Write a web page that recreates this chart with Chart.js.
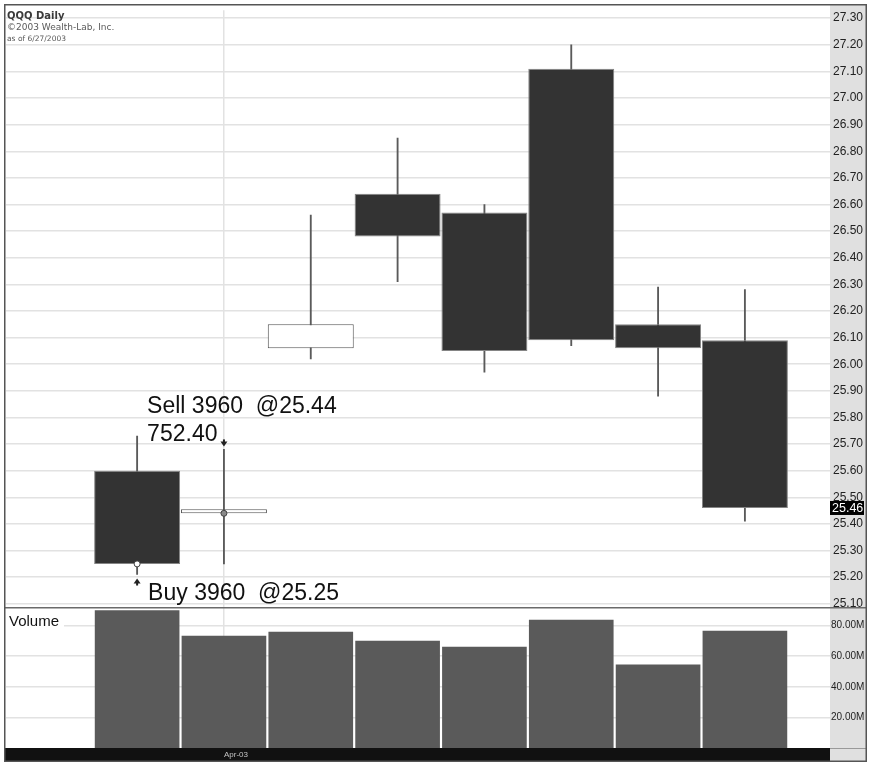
<!DOCTYPE html>
<html>
<head>
<meta charset="utf-8">
<script src="https://cdn.jsdelivr.net/npm/chart.js@4.4.1/dist/chart.umd.min.js"></script>
<style>
html,body{margin:0;padding:0;background:#fff;}
#c{position:absolute;left:0;top:0;width:870px;height:762px;}
</style>
</head>
<body>
<canvas id="c" width="870" height="762"></canvas>
<script>
// ---- data ----
const barIndex = [0, 1, 2, 3, 4, 5, 6, 7];
const opens    = [25.60, 25.44, 26.06, 26.64, 26.57, 27.11, 26.15, 26.09];
const highs    = [25.73, 25.68, 26.56, 26.85, 26.60, 27.20, 26.29, 26.28];
const lows     = [25.21, 25.25, 26.02, 26.31, 25.97, 26.07, 25.88, 25.41];
const closes   = [25.25, 25.44, 26.15, 26.48, 26.05, 26.09, 26.06, 25.46];
const volumes  = [90.0e6, 73.4e6, 76.0e6, 70.1e6, 66.2e6, 83.8e6, 54.5e6, 76.6e6];

const priceTicks = [25.10, 25.20, 25.30, 25.40, 25.50, 25.60, 25.70, 25.80, 25.90, 26.00, 26.10,
                    26.20, 26.30, 26.40, 26.50, 26.60, 26.70, 26.80, 26.90, 27.00, 27.10, 27.20, 27.30];
const volumeTicks = [20e6, 40e6, 60e6, 80e6];
const volumeTickLabels = ['20.00M', '40.00M', '60.00M', '80.00M'];
const dateTickIndex = [1];
const dateTickLabels = ['Apr-03'];

const tradeSide   = ['Buy', 'Sell'];
const tradeBar    = [0, 1];
const tradePrice  = [25.25, 25.44];
const tradeShares = [3960, 3960];

const titleLines = ['QQQ Daily', '\u00A92003 Wealth-Lab, Inc.', 'as of 6/27/2003'];

// ---- derived styles ----
const bodyFill   = barIndex.map(i => closes[i] < opens[i] ? '#333333' : '#ffffff');
const bodyBorder = barIndex.map(i => closes[i] < opens[i] ? '#858585' : '#555555');

const decorPlugin = {
  id: 'decor',
  beforeDraw(chart) {
    const ctx = chart.ctx;
    const ca = chart.chartArea;
    ctx.save();
    ctx.fillStyle = '#ffffff';
    ctx.fillRect(0, 0, chart.width, chart.height);
    ctx.fillStyle = '#e0e0e0';
    ctx.fillRect(ca.right, 5, 866 - ca.right, 756);
    ctx.fillStyle = '#111111';
    ctx.fillRect(5, ca.bottom, ca.right - 5, 761 - ca.bottom);
    ctx.restore();
  },
  afterDatasetsDraw(chart) {
    const ctx = chart.ctx;
    const xs = chart.scales.x, ys = chart.scales.y;
    ctx.save();
    tradeBar.forEach((b, k) => {
      const px = xs.getPixelForValue(b);
      const py = ys.getPixelForValue(tradePrice[k]);
      ctx.beginPath();
      ctx.arc(px, py, 3, 0, Math.PI * 2);
      ctx.fillStyle = k === 0 ? '#ffffff' : '#8a8a8a';
      ctx.fill();
      ctx.lineWidth = 1;
      ctx.strokeStyle = '#444';
      ctx.stroke();
    });
    const bx = xs.getPixelForValue(tradeBar[0]);
    const bLow = ys.getPixelForValue(lows[tradeBar[0]]);
    const sx = xs.getPixelForValue(tradeBar[1]);
    const sHigh = ys.getPixelForValue(highs[tradeBar[1]]);
    ctx.fillStyle = '#222';
    ctx.beginPath();
    ctx.moveTo(bx, bLow + 4); ctx.lineTo(bx + 3.5, bLow + 9); ctx.lineTo(bx - 3.5, bLow + 9); ctx.closePath();
    ctx.fill();
    ctx.fillRect(bx - 1, bLow + 8, 2, 3);
    ctx.beginPath();
    ctx.moveTo(sx, sHigh - 3); ctx.lineTo(sx + 3.5, sHigh - 8); ctx.lineTo(sx - 3.5, sHigh - 8); ctx.closePath();
    ctx.fill();
    ctx.fillRect(sx - 1, sHigh - 10, 2, 3);
    const profit = ((tradePrice[1] - tradePrice[0]) * tradeShares[0]).toFixed(2);
    ctx.font = '23px "Liberation Sans", Arial, sans-serif';
    ctx.fillStyle = '#111';
    ctx.textAlign = 'left';
    ctx.textBaseline = 'alphabetic';
    ctx.fillText(tradeSide[0] + ' ' + tradeShares[0] + '  @' + tradePrice[0].toFixed(2), bx + 11, bLow + 25);
    ctx.fillText(tradeSide[1] + ' ' + tradeShares[1] + '  @' + tradePrice[1].toFixed(2), bx + 10, sHigh - 36);
    ctx.fillText(profit, bx + 10, sHigh - 8);
    ctx.restore();
  },
  afterDraw(chart) {
    const ctx = chart.ctx;
    const ca = chart.chartArea;
    const ys = chart.scales.y, yv = chart.scales.yVol;
    ctx.save();
    ctx.fillStyle = '#ffffff';
    ctx.fillRect(ca.left, yv.top + 1, 58, 20);
    ctx.fillStyle = '#111';
    ctx.font = '15px "Liberation Sans", Arial, sans-serif';
    ctx.textBaseline = 'alphabetic';
    ctx.fillText('Volume', 9, yv.top + 18);
    const lastClose = closes[closes.length - 1];
    const ly = ys.getPixelForValue(lastClose);
    ctx.fillStyle = '#000';
    ctx.fillRect(ca.right, ly - 7, 34, 14);
    ctx.fillStyle = '#fff';
    ctx.font = '12.5px "Liberation Sans", Arial, sans-serif';
    ctx.textBaseline = 'middle';
    ctx.fillText(lastClose.toFixed(2), ca.right + 2, ly + 0.5);
    ctx.textBaseline = 'alphabetic';
    ctx.fillStyle = '#3a3a3a';
    ctx.font = 'bold 10px "DejaVu Sans", Verdana, sans-serif';
    ctx.fillText(titleLines[0], 7, 19);
    ctx.fillStyle = '#5a5a5a';
    ctx.font = '9px "DejaVu Sans", Verdana, sans-serif';
    ctx.fillText(titleLines[1], 7, 30);
    ctx.font = '7.5px "DejaVu Sans", Verdana, sans-serif';
    ctx.fillText(titleLines[2], 7, 41);
    ctx.strokeStyle = '#6a6a6a';
    ctx.lineWidth = 1.5;
    ctx.beginPath();
    ctx.moveTo(5, yv.top); ctx.lineTo(866, yv.top);
    ctx.stroke();
    ctx.strokeStyle = '#999';
    ctx.lineWidth = 1;
    ctx.beginPath();
    ctx.moveTo(ca.right, ca.bottom + 0.5); ctx.lineTo(866, ca.bottom + 0.5);
    ctx.stroke();
    ctx.strokeStyle = '#555';
    ctx.lineWidth = 1.5;
    ctx.strokeRect(4.75, 4.75, 861.5, 756.5);
    ctx.restore();
  }
};

const gridColor = '#e2e2e2';

new Chart(document.getElementById('c'), {
  type: 'bar',
  data: {
    datasets: [
      {
        label: 'Body',
        data: barIndex.map(i => ({ x: i, y: [opens[i], closes[i]] })),
        xAxisID: 'x', yAxisID: 'y',
        grouped: false,
        categoryPercentage: 1, barPercentage: 0.99,
        backgroundColor: bodyFill, borderColor: bodyBorder,
        borderWidth: 1, borderSkipped: false, minBarLength: 4,
        order: 0
      },
      {
        label: 'Wick',
        data: barIndex.map(i => ({ x: i, y: [lows[i], highs[i]] })),
        xAxisID: 'x', yAxisID: 'y',
        grouped: false,
        barThickness: 1.2,
        backgroundColor: '#5a5a5a', borderWidth: 0,
        order: 1
      },
      {
        label: 'Volume',
        data: barIndex.map(i => ({ x: i, y: volumes[i] })),
        xAxisID: 'x', yAxisID: 'yVol',
        grouped: false,
        categoryPercentage: 1, barPercentage: 0.975,
        backgroundColor: '#5a5a5a', borderWidth: 0,
        order: 2
      }
    ]
  },
  options: {
    responsive: false,
    animation: false,
    devicePixelRatio: 1,
    layout: { padding: { left: 6, top: 6, right: 4, bottom: 1 }, autoPadding: false },
    plugins: { legend: { display: false }, tooltip: { enabled: false } },
    scales: {
      x: {
        type: 'linear', position: 'bottom', offset: false, bounds: 'data',
        min: -1.51, max: 7.98,
        afterBuildTicks: s => { s.ticks = dateTickIndex.map(v => ({ value: v })); },
        afterFit: s => { s.height = 13; },
        ticks: {
          callback: v => { const k = dateTickIndex.indexOf(v); return k >= 0 ? dateTickLabels[k] : ''; },
          align: 'start', padding: 2, autoSkip: false, maxRotation: 0,
          font: { family: '"Liberation Sans Narrow", "Liberation Sans", Arial', size: 8 },
          color: '#c4c4c4'
        },
        grid: { color: gridColor, lineWidth: 1.5, drawTicks: false, offset: false },
        border: { display: false }
      },
      y: {
        type: 'linear', position: 'right', stack: 'panels', stackWeight: 601,
        min: 25.085, max: 27.33, bounds: 'data', beginAtZero: false,
        afterBuildTicks: s => { s.ticks = priceTicks.map(v => ({ value: v })); },
        afterFit: s => { s.width = 36; },
        ticks: {
          callback: v => Number(v).toFixed(2),
          padding: 3, autoSkip: false,
          font: { family: '"Liberation Sans", Arial', size: 12 },
          color: '#222'
        },
        grid: { color: gridColor, lineWidth: 1.5, drawTicks: false },
        border: { display: false }
      },
      yVol: {
        type: 'linear', position: 'right', stack: 'panels', stackWeight: 141,
        min: 0, max: 91.6e6, bounds: 'data',
        afterBuildTicks: s => { s.ticks = volumeTicks.map(v => ({ value: v })); },
        afterFit: s => { s.width = 36; },
        ticks: {
          callback: v => { const k = volumeTicks.indexOf(v); return k >= 0 ? volumeTickLabels[k] : ''; },
          padding: 1, autoSkip: false,
          font: { family: '"Liberation Sans", Arial', size: 10 },
          color: '#222'
        },
        grid: { color: gridColor, lineWidth: 1.5, drawTicks: false },
        border: { display: false }
      }
    }
  },
  plugins: [decorPlugin]
});
</script>
</body>
</html>
